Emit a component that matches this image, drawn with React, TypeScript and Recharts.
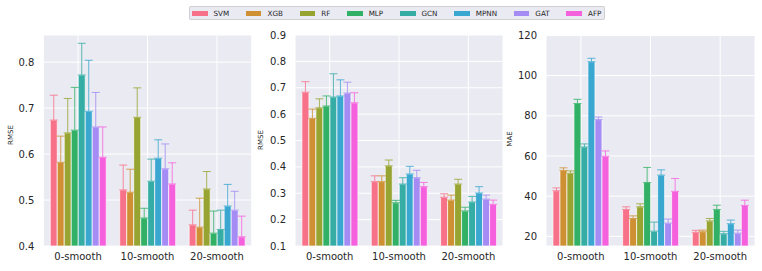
import React from 'react';
import { BarChart, Bar, XAxis, YAxis, CartesianGrid, ErrorBar } from 'recharts';

const categories = ['0-smooth', '10-smooth', '20-smooth'];
const models = ['SVM', 'XGB', 'RF', 'MLP', 'GCN', 'MPNN', 'GAT', 'AFP'];
const colors = ['#f77189', '#ce9032', '#97a431', '#32b166', '#36ada4', '#39a7d0', '#a48cf4', '#f561dd'];

// Panel 1 (RMSE)
const rmseA: number[][] = [
  [0.674, 0.522, 0.446],
  [0.582, 0.517, 0.441],
  [0.646, 0.680, 0.524],
  [0.652, 0.461, 0.428],
  [0.772, 0.541, 0.436],
  [0.693, 0.591, 0.487],
  [0.659, 0.568, 0.478],
  [0.593, 0.535, 0.420],
];
const rmseAErr: number[][] = [
  [0.054, 0.054, 0.032],
  [0.057, 0.050, 0.063],
  [0.075, 0.064, 0.038],
  [0.093, 0.021, 0.048],
  [0.069, 0.048, 0.042],
  [0.111, 0.040, 0.047],
  [0.075, 0.054, 0.041],
  [0.066, 0.046, 0.045],
];
const ticksA = [0.4, 0.5, 0.6, 0.7, 0.8];

// Panel 2 (RMSE)
const rmseB: number[][] = [
  [0.683, 0.344, 0.285],
  [0.584, 0.344, 0.274],
  [0.624, 0.404, 0.335],
  [0.631, 0.264, 0.233],
  [0.665, 0.335, 0.267],
  [0.669, 0.373, 0.301],
  [0.680, 0.359, 0.278],
  [0.643, 0.325, 0.258],
];
const rmseBErr: number[][] = [
  [0.040, 0.022, 0.013],
  [0.035, 0.022, 0.019],
  [0.034, 0.022, 0.018],
  [0.038, 0.009, 0.014],
  [0.088, 0.024, 0.021],
  [0.061, 0.029, 0.024],
  [0.041, 0.028, 0.015],
  [0.038, 0.016, 0.016],
];
const ticksB = [0.1, 0.2, 0.3, 0.4, 0.5, 0.6, 0.7, 0.8, 0.9];

// Panel 3 (MAE)
const maeC: number[][] = [
  [42.7, 33.4, 22.0],
  [52.8, 28.9, 22.3],
  [51.4, 34.7, 27.7],
  [86.1, 46.8, 33.4],
  [64.5, 22.6, 21.3],
  [106.9, 50.5, 26.3],
  [78.1, 26.6, 21.6],
  [59.9, 42.4, 35.4],
];
const maeCErr: number[][] = [
  [1.4, 1.3, 1.0],
  [1.3, 1.3, 0.8],
  [1.2, 1.5, 1.2],
  [2.1, 7.5, 2.1],
  [1.5, 4.5, 1.2],
  [1.7, 2.6, 1.8],
  [1.3, 2.0, 1.5],
  [2.6, 6.4, 2.6],
];
const ticksC = [20, 40, 60, 80, 100, 120];

function buildRows(vals: number[][], errs: number[][]) {
  return categories.map((cat, i) => {
    const row: any = { name: cat };
    models.forEach((m, k) => {
      row[m] = vals[k][i];
      row[m + '_err'] = [0, errs[k][i]];
    });
    return row;
  });
}

const FONT = 'DejaVu Sans, Verdana, sans-serif';
const TXT = '#262626';

type PanelProps = {
  left: number;
  width: number;
  yAxisWidth: number;
  rightMargin: number;
  vals: number[][];
  errs: number[][];
  domain: [number, number];
  ticks: number[];
  fmt: (v: number) => string;
  ylabel: string;
  labelX: number;
  labelY: number;
};

function Panel(p: PanelProps) {
  const rows = buildRows(p.vals, p.errs);
  return (
    <div style={{ position: 'absolute', left: p.left, top: 0 }}>
      <BarChart
        width={p.width}
        height={271}
        data={rows}
        margin={{ top: 35, right: p.rightMargin, bottom: 0, left: 0 }}
        barCategoryGap="10%"
        barGap={0}
      >
        <CartesianGrid stroke="#ffffff" strokeWidth={1} fill="#eaeaf2" fillOpacity={1} />
        <XAxis
          dataKey="name"
          height={25}
          tickLine={false}
          axisLine={false}
          tickSize={0}
          tickMargin={7}
          tick={{ fontSize: 10, fill: TXT, fontFamily: FONT }}
          interval={0}
        />
        <YAxis
          type="number"
          domain={p.domain}
          allowDataOverflow
          ticks={p.ticks}
          width={p.yAxisWidth}
          tickLine={false}
          axisLine={false}
          tickSize={0}
          tickMargin={9}
          tickFormatter={p.fmt}
          tick={{ fontSize: 10, fill: TXT, fontFamily: FONT }}
          label={{
            value: p.ylabel,
            content: () => (
              <text
                x={p.labelX}
                y={p.labelY}
                transform={`rotate(-90 ${p.labelX} ${p.labelY})`}
                textAnchor="middle"
                dominantBaseline="central"
                fontSize={7}
                fill={TXT}
                fontFamily={FONT}
              >
                {p.ylabel}
              </text>
            ),
          }}
        />
        {models.map((m, k) => (
          <Bar
            key={m}
            dataKey={m}
            fill={colors[k]}
            stroke="#ffffff"
            strokeWidth={0.7}
            isAnimationActive={false}
          >
            <ErrorBar
              dataKey={m + '_err'}
              direction="y"
              width={4}
              stroke={colors[k]}
              strokeWidth={1}
              strokeOpacity={0.8}
            />
          </Bar>
        ))}
      </BarChart>
    </div>
  );
}

function Legend() {
  return (
    <div
      style={{
        position: 'absolute',
        left: 189,
        top: 6,
        height: 14,
        boxSizing: 'border-box',
        border: '1px solid rgba(204,204,204,0.9)',
        borderRadius: 2,
        background: '#eaeaf2',
        display: 'flex',
        alignItems: 'center',
        padding: '0 3px 0 2px',
        gap: 16.8,
        fontFamily: FONT,
        fontSize: 7.2,
        color: TXT,
        whiteSpace: 'nowrap',
      }}
    >
      {models.map((m, k) => (
        <div key={m} style={{ display: 'flex', alignItems: 'center' }}>
          <div style={{ width: 15.5, height: 5, background: colors[k], marginRight: 6 }} />
          <span style={{ lineHeight: '9px' }}>{m}</span>
        </div>
      ))}
    </div>
  );
}

export default function App() {
  return (
    <div
      style={{
        position: 'absolute',
        left: 0,
        top: 0,
        width: 762,
        height: 271,
        background: '#ffffff',
        overflow: 'hidden',
        fontFamily: FONT,
      }}
    >
      <Panel
        left={0}
        width={262}
        yAxisWidth={43.3}
        rightMargin={10.3}
        vals={rmseA}
        errs={rmseAErr}
        domain={[0.4, 0.859]}
        ticks={ticksA}
        fmt={(v) => v.toFixed(1)}
        ylabel="RMSE"
        labelX={10.5}
        labelY={135}
      />
      <Panel
        left={252}
        width={262}
        yAxisWidth={43}
        rightMargin={11}
        vals={rmseB}
        errs={rmseBErr}
        domain={[0.1, 0.9]}
        ticks={ticksB}
        fmt={(v) => v.toFixed(1)}
        ylabel="RMSE"
        labelX={9}
        labelY={140}
      />
      <Panel
        left={504}
        width={258}
        yAxisWidth={42}
        rightMargin={7}
        vals={maeC}
        errs={maeCErr}
        domain={[15.2, 120.2]}
        ticks={ticksC}
        fmt={(v) => String(v)}
        ylabel="MAE"
        labelX={5.5}
        labelY={139}
      />
      <Legend />
    </div>
  );
}
